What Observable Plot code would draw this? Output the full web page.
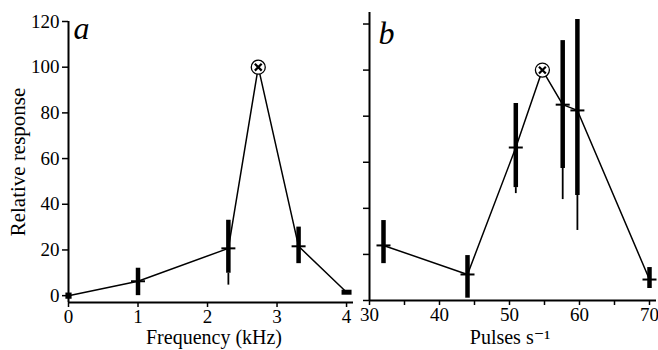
<!DOCTYPE html>
<html><head><meta charset="utf-8">
<script src="https://cdn.jsdelivr.net/npm/d3@7"></script>
<script src="https://cdn.jsdelivr.net/npm/@observablehq/plot@0.6"></script>
<style>
html,body{margin:0;padding:0;background:#fff;}
#wrap{display:flex;width:658px;height:350px;overflow:hidden;background:#fff;}
#wrap svg, #wrap svg text{font-family:'Liberation Serif','Times New Roman','DejaVu Serif',serif !important;}
</style>
</head><body><div id="wrap"></div>
<script>
// Panel a: frequency tuning
const freqKHz       = [0, 1, 2.3, 2.73, 3.31, 4];
const freqResponse  = [0, 6.3, 20.7, 100, 21.6, 1.5];
const freqBarLow    = [null, 0, 9.8, null, 14, null];
const freqBarHigh   = [null, 12, 33, null, 30, null];
const freqTailLow   = [null, null, 4.6, null, null, null];
const freqMarker    = ["square", "cross", "cross", "peak", "cross", "dash"];

// Panel b: pulse-rate tuning
const pulseRate     = [32, 44, 50.9, 54.7, 57.6, 59.7, 70];
const pulseResponse = [23.9, 11.3, 66.4, 100, 85, 82.5, 9.1];
const pulseBarLow   = [16, 1, 49, null, 57.3, 45.6, 5.2];
const pulseBarHigh  = [34.7, 19.5, 85.5, null, 112.8, 122, 14.3];
const pulseTailLow  = [null, null, 46.4, null, 43.8, 30.4, null];
const pulseMarker   = ["cross", "cross", "cross", "peak", "cross", "cross", "cross"];

const yTicks = [0, 20, 40, 60, 80, 100, 120];
const freqTicks = [0, 1, 2, 3, 4];
const pulseTicks = [30, 35, 40, 45, 50, 55, 60, 65, 70];
const pulseTickLabels = [30, 40, 50, 60, 70];

const serif = "Liberation Serif";
const hline = {draw(ctx, size) { const r = Math.sqrt(size / Math.PI); ctx.moveTo(-r, 0); ctx.lineTo(r, 0); }};

function rows(xs, ys, lo, hi, tl, mk) {
  return xs.map((x, i) => ({x, y: ys[i], lo: lo[i], hi: hi[i], tl: tl[i], mk: mk[i]}));
}

function dataMarks(D) {
  return [
    Plot.line(D, {x: "x", y: "y", stroke: "black", strokeWidth: 1.5}),
    Plot.ruleX(D.filter(d => d.tl != null), {x: "x", y1: "tl", y2: "lo", stroke: "black", strokeWidth: 1.8}),
    Plot.ruleX(D.filter(d => d.lo != null), {x: "x", y1: "lo", y2: "hi", stroke: "black", strokeWidth: 4.5}),
    Plot.dot(D.filter(d => d.mk === "cross"), {x: "x", y: "y", symbol: hline, r: 7, stroke: "black", strokeWidth: 2, fill: "none"}),
    Plot.dot(D.filter(d => d.mk === "dash"), {x: "x", y: "y", symbol: hline, r: 5, stroke: "black", strokeWidth: 5, fill: "none"}),
    Plot.dot(D.filter(d => d.mk === "square"), {x: "x", y: "y", symbol: "square", r: 3.5, fill: "black", stroke: "none"}),
    Plot.dot(D.filter(d => d.mk === "peak"), {x: "x", y: "y", r: 7, fill: "white", stroke: "black", strokeWidth: 1.3}),
    Plot.dot(D.filter(d => d.mk === "peak"), {x: "x", y: "y", symbol: "times", r: 3.2, stroke: "black", strokeWidth: 2.2})
  ];
}

const A = rows(freqKHz, freqResponse, freqBarLow, freqBarHigh, freqTailLow, freqMarker);
const B = rows(pulseRate, pulseResponse, pulseBarLow, pulseBarHigh, pulseTailLow, pulseMarker);

const style = {fontFamily: serif, fontSize: "19px", background: "white", color: "black", overflow: "visible"};

const plotA = Plot.plot({
  width: 360, height: 350,
  marginLeft: 68, marginRight: 7, marginTop: 21, marginBottom: 48,
  x: {domain: [0, 4.1]},
  y: {domain: [-3, 120]},
  style,
  marks: [
    Plot.ruleY([-3], {stroke: "black", strokeWidth: 2}),
    Plot.ruleX([0], {stroke: "black", strokeWidth: 2}),
    Plot.axisY({ticks: yTicks, tickSize: 6, tickPadding: 3, label: null, fontSize: 19, fontFamily: serif, strokeWidth: 1.5, tickFormat: d => String(d)}),
    Plot.axisX({ticks: freqTicks, tickSize: 5, tickPadding: 2, label: null, fontSize: 19, fontFamily: serif, strokeWidth: 1.5, tickFormat: d => String(d)}),
    ...dataMarks(A),
    Plot.text(["Relative response"], {text: d => d, frameAnchor: "left", textAnchor: "middle", lineAnchor: "middle", dx: -50, rotate: -90, fontSize: 21, fontFamily: serif}),
    Plot.text(["Frequency (kHz)"], {text: d => d, frameAnchor: "bottom", textAnchor: "middle", lineAnchor: "middle", dx: 3, dy: 35, fontSize: 20, fontFamily: serif}),
    Plot.text(["a"], {text: d => d, frameAnchor: "top-left", textAnchor: "start", lineAnchor: "middle", dx: 5, dy: 7, fontSize: 32, fontStyle: "italic", fontFamily: serif})
  ]
});

const plotB = Plot.plot({
  width: 298, height: 350,
  marginLeft: 9, marginRight: 2, marginTop: 12, marginBottom: 50,
  x: {domain: [30, 71]},
  y: {domain: [0, 125]},
  style,
  marks: [
    Plot.ruleY([0], {stroke: "black", strokeWidth: 2}),
    Plot.ruleX([30], {stroke: "black", strokeWidth: 2}),
    Plot.axisY({ticks: yTicks, tickSize: 6, tickFormat: () => "", label: null, strokeWidth: 1.5}),
    Plot.axisX({ticks: pulseTicks, tickSize: 5, tickPadding: 2, label: null, fontSize: 19, fontFamily: serif, strokeWidth: 1.5,
      tickFormat: d => pulseTickLabels.includes(d) ? String(d) : ""}),
    ...dataMarks(B),
    Plot.text(["Pulses s\u207B\u00B9"], {text: d => d, frameAnchor: "bottom", textAnchor: "middle", lineAnchor: "middle", dx: -3, dy: 37, fontSize: 20, fontFamily: serif}),
    Plot.text(["b"], {text: d => d, frameAnchor: "top-left", textAnchor: "start", lineAnchor: "middle", dx: 9, dy: 21, fontSize: 32, fontStyle: "italic", fontFamily: serif})
  ]
});

document.getElementById("wrap").append(plotA, plotB);
</script>
</body></html>
